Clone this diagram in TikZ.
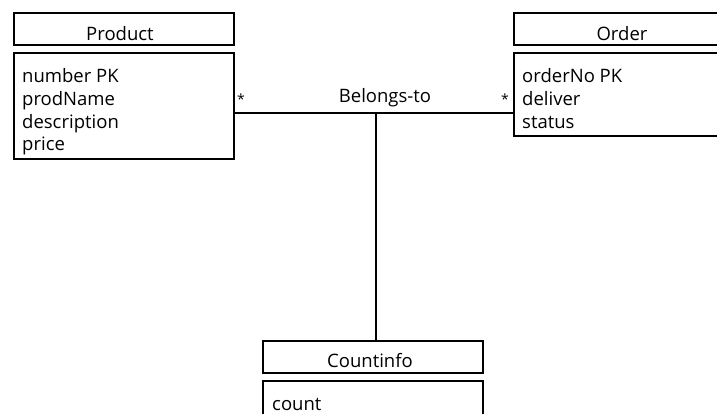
\documentclass[tikz,border=0pt]{standalone}
\usepackage{fontspec}
\setmainfont{Open Sans}
\begin{document}
\begin{tikzpicture}[x=1pt,y=-1pt,
  box/.style={draw=black,line width=2pt,anchor=north west,inner sep=0pt,minimum width=220pt},
  txt/.style={font=\fontsize{18.5}{22}\selectfont,anchor=base west,inner sep=0pt},
  title/.style={font=\fontsize{18.5}{22}\selectfont,anchor=base,inner sep=0pt},
  mult/.style={font=\fontsize{14}{16}\selectfont,anchor=base,inner sep=0pt},
  link/.style={line width=2pt}]
\useasboundingbox (0,0) rectangle (717,413);
\clip (0,0) rectangle (717,413);
% Product class
\node[box,minimum height=32pt] (phead) at (13,12) {};
\node[box,minimum height=106pt] (pbody) at (13,52) {};
\node[title] (ptitle) at (120,40) {Product};
\node[txt] (pa1) at (22,82) {number PK};
\node[txt] (pa2) at (22,105) {prodName};
\node[txt] (pa3) at (22,128) {description};
\node[txt] (pa4) at (22,150) {price};
% Order class
\node[box,minimum height=32pt] (ohead) at (513,12) {};
\node[box,minimum height=83pt] (obody) at (513,52) {};
\node[title] (otitle) at (622,40) {Order};
\node[txt] (oa1) at (522,82) {orderNo PK};
\node[txt] (oa2) at (522,105) {deliver};
\node[txt] (oa3) at (522,128) {status};
% Countinfo class
\node[box,minimum height=32pt] (chead) at (262,340) {};
\node[box,minimum height=60pt] (cbody) at (262,380) {};
\node[title] (ctitle) at (370,367) {Countinfo};
\node[txt] (ca1) at (272,410) {count};
% Belongs-to association
\coordinate (mid) at (375.5,112.5);
\draw[link] (pbody.east |- mid) -- (obody.west |- mid);
\draw[link] (mid) -- (mid |- chead.north);
\node[title] (assoc) at (385,102) {Belongs-to};
\node[mult] (ml) at (241,104) {*};
\node[mult] (mr) at (505,104) {*};
\end{tikzpicture}
\end{document}
